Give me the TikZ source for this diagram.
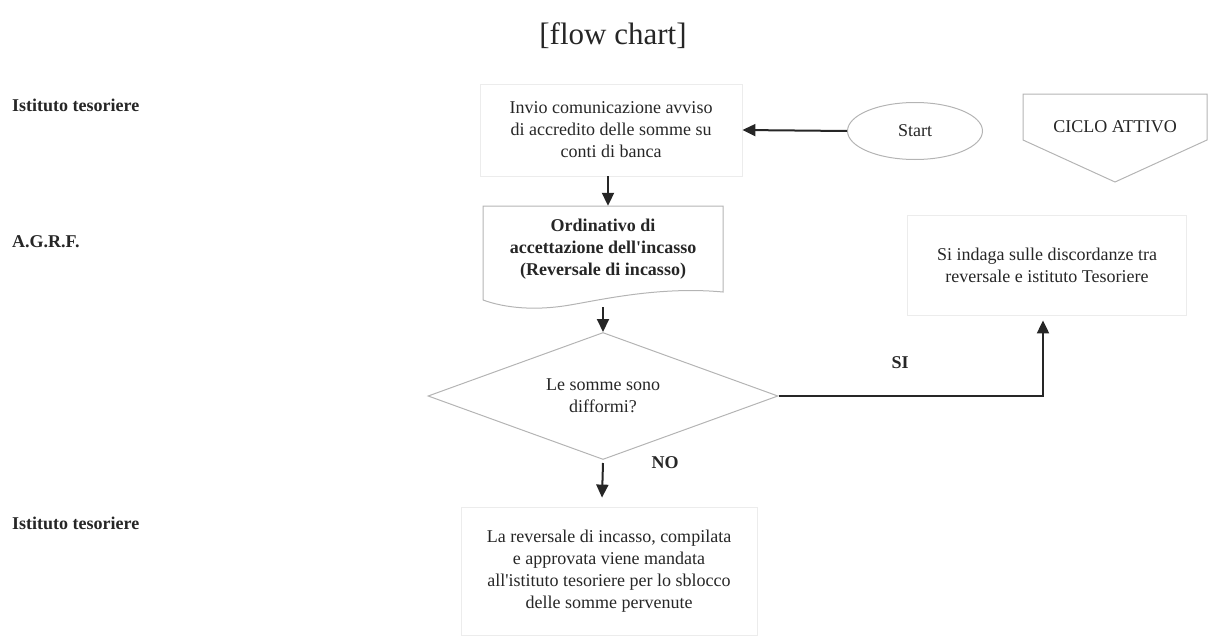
\documentclass[tikz,border=0pt]{standalone}
\usepackage{fontspec}
\setmainfont{Liberation Serif}
\usetikzlibrary{shapes.geometric,arrows.meta,calc}
\definecolor{ink}{HTML}{262626}
\definecolor{edge}{HTML}{B4B4B4}
\definecolor{faint}{HTML}{ECECEC}
\begin{document}
\begin{tikzpicture}[x=1pt,y=-1pt,
  txt/.style={font=\fontsize{18}{22}\selectfont, text=ink, align=center},
  lane/.style={font=\fontsize{18}{22}\selectfont\bfseries, text=ink, anchor=west, inner sep=0},
  procbox/.style={txt, draw=faint, line width=0.8pt, inner sep=0},
  shapeline/.style={draw=edge, line width=1pt},
  arr/.style={draw=ink, line width=2pt, -{Triangle[length=13pt,width=12pt]}},
  flag/.style={font=\fontsize{18}{22}\selectfont\bfseries, text=ink, inner sep=0}
]
\useasboundingbox (0,0) rectangle (1208,637);

% title
\node[font=\fontsize{31}{36}\selectfont, text=ink] (title) at (613,36) {[flow chart]};

% swimlane names
\node[lane] (lane1) at (12,105) {Istituto tesoriere};
\node[lane] (lane2) at (12,242) {A.G.R.F.};
\node[lane] (lane3) at (12,523) {Istituto tesoriere};

% notice from the treasurer
\node[procbox, minimum width=262pt, minimum height=92pt] (invio) at (611,130)
  {Invio comunicazione avviso\\di accredito delle somme su\\conti di banca};

% start terminal
\node[txt, shapeline, ellipse, minimum width=135pt, minimum height=57pt, inner sep=0] (start) at (915,131) {Start};

% off-page connector
\draw[shapeline] (1023,94) -- (1207,94) -- (1207,140) -- (1115,182) -- (1023,140) -- cycle;
\node[txt] (ciclo) at (1115,127) {CICLO ATTIVO};

% document shape: collection order
\node[txt, font=\fontsize{18}{22}\selectfont\bfseries, minimum width=240pt, minimum height=86pt, inner sep=0] (ordin) at (603,249)
  {Ordinativo di\\accettazione dell\textquotesingle incasso\\(Reversale di incasso)};
\coordinate (docbot) at (603,305);
\draw[shapeline] (483,300) -- (483,206) -- (723,206) -- (723,292)
  .. controls (660,286) and (600,300) .. (570,305)
  .. controls (535,311) and (505,308) .. (483,300);

% decision
\node[txt, shapeline, diamond, aspect=2.756, minimum width=350pt, minimum height=127pt, inner sep=0] (dec) at (603,396)
  {Le somme sono\\difformi?};

% investigation box
\node[procbox, minimum width=279pt, minimum height=100pt] (indaga) at (1047,265)
  {Si indaga sulle discordanze tra\\reversale e istituto Tesoriere};

% release box
\node[procbox, minimum width=296pt, minimum height=128pt] (rev) at (609,571)
  {La reversale di incasso, compilata\\e approvata viene mandata\\all\textquotesingle istituto tesoriere per lo sblocco\\delle somme pervenute};

% connectors
\draw[arr] (start.west) -- (invio.east);
\draw[arr] (invio.south -| 608,0) -- (ordin.north -| 608,0);
\draw[arr] ($(docbot)+(0,2)$) -- (dec.north);
\draw[arr] (dec.east) -| ($(indaga.south)+(-4,5)$);
\draw[arr] ($(dec.south)+(0,3)$) -- ($(rev.north)+(-7,-9)$);

% branch labels
\node[flag] (si) at (900,363) {SI};
\node[flag] (no) at (665,463) {NO};
\end{tikzpicture}
\end{document}
